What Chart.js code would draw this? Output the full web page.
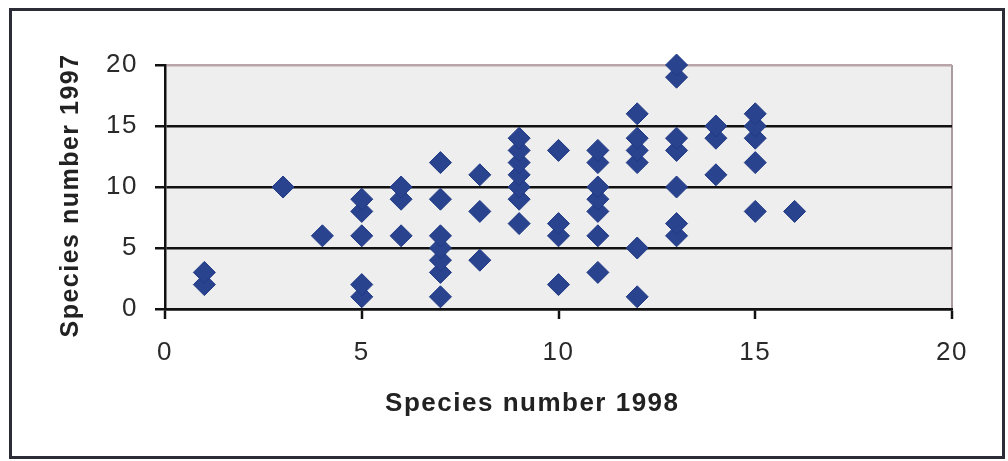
<!DOCTYPE html>
<html>
<head>
<meta charset="utf-8">
<script src="https://cdn.jsdelivr.net/npm/chart.js@4/dist/chart.umd.min.js"></script>
<style>
  html, body { margin: 0; padding: 0; background: #fff; }
  #wrap { width: 1008px; height: 461px; position: relative; }
</style>
</head>
<body>
<div id="wrap"><canvas id="scatterChart"></canvas></div>
<script>
// species counts per site: x = 1998, y = 1997
const species1998 = [
    1, 1,
    3,
    4,
    5, 5, 5, 5, 5,
    6, 6, 6,
    7, 7, 7, 7, 7, 7, 7,
    8, 8, 8,
    9, 9, 9, 9, 9, 9, 9,
    10, 10, 10, 10,
    11, 11, 11, 11, 11, 11, 11,
    12, 12, 12, 12, 12, 12,
    13, 13, 13, 13, 13, 13, 13,
    14, 14, 14,
    15, 15, 15, 15, 15,
    16
];
const species1997 = [
    2, 3,
    10,
    6,
    1, 2, 6, 8, 9,
    6, 9, 10,
    1, 3, 4, 5, 6, 9, 12,
    4, 8, 11,
    7, 9, 10, 11, 12, 13, 14,
    2, 6, 7, 13,
    3, 6, 8, 9, 10, 12, 13,
    1, 5, 12, 13, 14, 16,
    6, 7, 10, 13, 14, 19, 20,
    11, 14, 15,
    8, 12, 14, 15, 16,
    8
];
const xTicks = [0, 5, 10, 15, 20];
const yTicks = [0, 5, 10, 15, 20];

const points = species1998.map((x, i) => ({ x: x, y: species1997[i] }));

// grey plot background + outer frame
const framePlugin = {
    id: 'frame',
    beforeDraw(chart) {
        const { ctx, chartArea: a } = chart;
        ctx.save();
        ctx.fillStyle = '#eeeeee';
        ctx.fillRect(a.left, a.top, a.right - a.left, a.bottom - a.top);
        ctx.strokeStyle = '#2c2c36';
        ctx.lineWidth = 3;
        ctx.strokeRect(10.5, 9.5, 993, 448);
        ctx.restore();
        ctx.letterSpacing = '1.5px';
    }
};

new Chart(document.getElementById('scatterChart').getContext('2d'), {
    type: 'scatter',
    data: {
        datasets: [{
            data: points,
            clip: false,
            pointStyle: 'rectRot',
            pointRadius: 11,
            pointHoverRadius: 11,
            backgroundColor: '#29438f',
            borderColor: '#213a86',
            borderWidth: 1
        }]
    },
    options: {
        responsive: true,
        maintainAspectRatio: false,
        animation: false,
        layout: { padding: { top: 65, right: 56, left: 0, bottom: 0 } },
        plugins: { legend: { display: false }, tooltip: { enabled: false } },
        scales: {
            x: {
                type: 'linear',
                min: 0,
                max: 20,
                afterBuildTicks: s => { s.ticks = xTicks.map(v => ({ value: v })); },
                afterFit: s => { s.height = 152; },
                border: { color: '#111', width: 2.5 },
                grid: {
                    color: c => c.tick && c.tick.value === 20 ? '#a89c9e' : 'rgba(0,0,0,0)',
                    lineWidth: 2,
                    tickColor: '#111',
                    tickLength: 10,
                    tickWidth: 2.5
                },
                ticks: {
                    color: '#2a2a2a',
                    padding: 18,
                    maxRotation: 0,
                    font: { family: "'Liberation Sans', Arial, sans-serif", size: 26 }
                },
                title: {
                    display: true,
                    // trailing spaces nudge the centred title left, as in the original
                    text: 'Species number 1998      ',
                    color: '#222',
                    padding: { top: 0, bottom: 42 },
                    font: { family: "'Liberation Sans', Arial, sans-serif", size: 26, weight: 'bold' }
                }
            },
            y: {
                type: 'linear',
                min: 0,
                max: 20,
                afterBuildTicks: s => { s.ticks = yTicks.map(v => ({ value: v })); },
                afterFit: s => { s.width = 165; },
                border: { color: '#111', width: 2.5 },
                grid: {
                    color: c => c.tick && c.tick.value === 20 ? '#b9a4a8' : '#111',
                    lineWidth: 2.5,
                    tickColor: '#111',
                    tickLength: 10,
                    tickWidth: 2.5
                },
                ticks: {
                    color: '#2a2a2a',
                    padding: 17,
                    font: { family: "'Liberation Sans', Arial, sans-serif", size: 26 }
                },
                title: {
                    display: true,
                    text: 'Species number 1997  ',
                    color: '#222',
                    padding: { top: 56, bottom: 0 },
                    font: { family: "'Liberation Sans', Arial, sans-serif", size: 25, weight: 'bold' }
                }
            }
        }
    },
    plugins: [framePlugin]
});
</script>
</body>
</html>
